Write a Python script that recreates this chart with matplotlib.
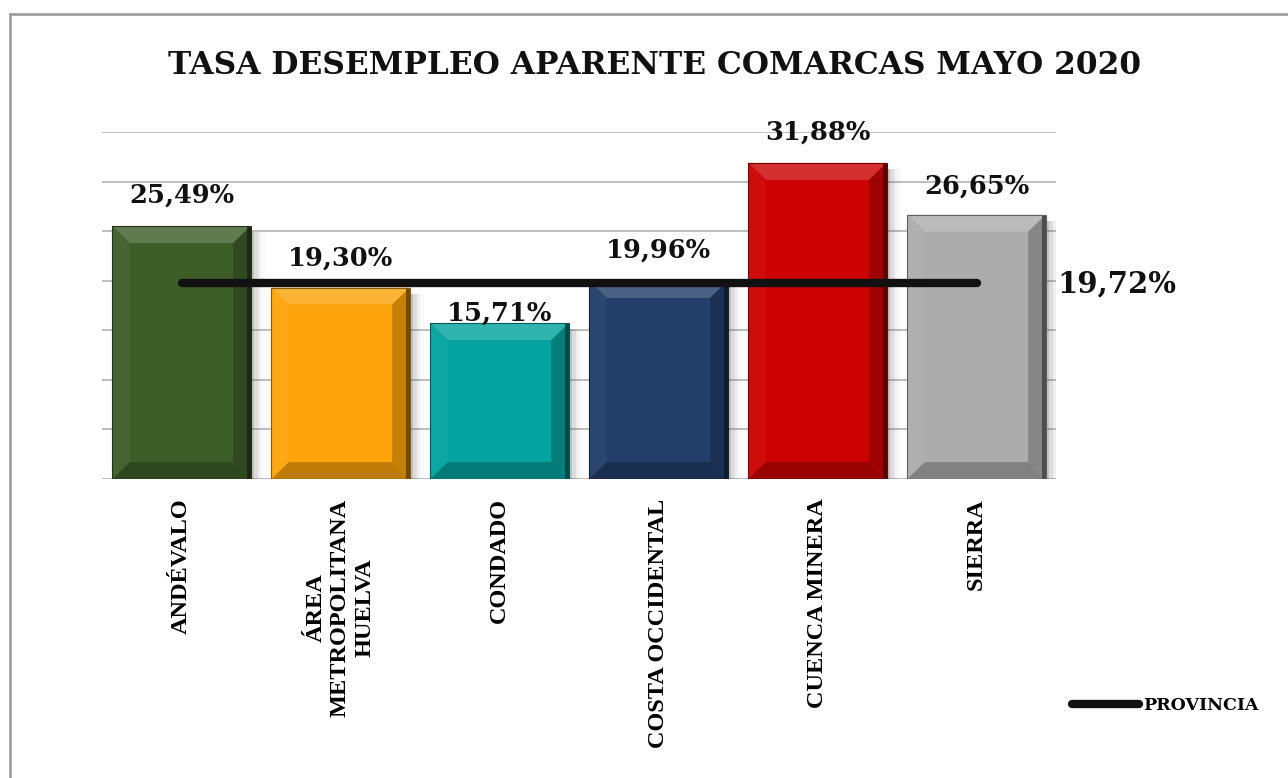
import matplotlib.pyplot as plt
import numpy as np
from matplotlib.patches import Polygon, Rectangle
from matplotlib.lines import Line2D
from matplotlib.colors import to_rgb

# Tasa de desempleo aparente por comarca (mayo 2020)
comarcas = ['ANDÉVALO', 'ÁREA\nMETROPOLITANA\nHUELVA', 'CONDADO',
            'COSTA OCCIDENTAL', 'CUENCA MINERA', 'SIERRA']
tasas = [25.49, 19.30, 15.71, 19.96, 31.88, 26.65]
provincia = 19.72
colores = ['#3E5E29', '#FDA40A', '#03A39F', '#223E69', '#CC0202', '#ACACAC']
# extra vertical offset of the value labels (Condado label sits lower)
label_off = [3.1, 3.0, 1.0, 3.1, 3.1, 2.9]

serif_b = dict(family='DejaVu Serif', weight='bold')


def mix(c, other, t):
    c = np.array(to_rgb(c))
    return tuple(c * (1 - t) + np.array(other) * t)


fig = plt.figure(figsize=(12.88, 7.78), dpi=100)
ax = fig.add_axes([102 / 1288, 1 - 479 / 778, 954 / 1288, 347 / 778])

x = np.arange(len(comarcas))
bw = 0.87
bx = 0.11    # bevel width in x units
by = 1.7     # bevel height in y units

ax.set_xlim(-0.5, len(comarcas) - 0.5)
ax.set_ylim(0, 35)
ax.set_yticks(np.arange(0, 36, 5))
ax.yaxis.grid(True, color='#BEBEBE', lw=1.4)
ax.set_axisbelow(True)
for s in ax.spines.values():
    s.set_visible(False)
ax.tick_params(axis='y', length=0, labelleft=False)
ax.tick_params(axis='x', length=0, pad=14)

bars = ax.bar(x, tasas, width=bw, color=colores, zorder=2)

for b, c in zip(bars, colores):
    x0, x1 = b.get_x(), b.get_x() + b.get_width()
    y0, y1 = 0, b.get_height()
    # soft shadow on the right
    for k, a in enumerate([0.20, 0.12, 0.06, 0.03]):
        ax.add_patch(Rectangle((x1, y0), 0.022 * (k + 1), y1 - 0.6, color='#555555',
                               alpha=a, lw=0, zorder=1.5))
    faces = [
        ([(x0, y1), (x1, y1), (x1 - bx, y1 - by), (x0 + bx, y1 - by)], mix(c, (1, 1, 1), 0.18)),
        ([(x0, y0), (x0, y1), (x0 + bx, y1 - by), (x0 + bx, y0 + by)], mix(c, (1, 1, 1), 0.04)),
        ([(x1, y0), (x1, y1), (x1 - bx, y1 - by), (x1 - bx, y0 + by)], mix(c, (0, 0, 0), 0.22)),
        ([(x0, y0), (x1, y0), (x1 - bx, y0 + by), (x0 + bx, y0 + by)], mix(c, (0, 0, 0), 0.25)),
    ]
    for pts, fc in faces:
        ax.add_patch(Polygon(pts, closed=True, fc=fc, ec='none', zorder=2.5))
    # darker outer rim on right and bottom
    ax.add_patch(Rectangle((x1 - 0.025, y0), 0.025, y1, fc=mix(c, (0, 0, 0), 0.55),
                           ec='none', zorder=2.55))
    ax.add_patch(Rectangle((x0, y0), x1 - x0, y1, fill=False,
                           ec=mix(c, (0, 0, 0), 0.45), lw=0.8, zorder=2.6))

for xi, v, off in zip(x, tasas, label_off):
    ax.text(xi, v + off, f'{v:.2f}%'.replace('.', ','), ha='center', va='center',
            fontsize=18.5, color='#111111', zorder=5, **serif_b)

ax.plot(x, [provincia] * len(x), color='#111111', lw=6, solid_capstyle='round', zorder=4)
ax.text(1.002, provincia, f'{provincia:.2f}%'.replace('.', ','),
        transform=ax.get_yaxis_transform(), ha='left', va='center',
        fontsize=21, color='#111111', **serif_b)

ax.set_xticks(x)
ax.set_xticklabels(comarcas, rotation=90, va='top', ha='center',
                   family='Liberation Serif', weight='bold', fontsize=17.5,
                   multialignment='center', linespacing=1.2)

fig.text(655 / 1288, 1 - 65 / 778, 'TASA DESEMPLEO APARENTE COMARCAS MAYO 2020',
         ha='center', va='center', fontsize=22.5, color='#111111', **serif_b)

handle = Line2D([], [], color='#111111', lw=6, solid_capstyle='round')
fig.legend([handle], ['PROVINCIA'], loc='center left',
           bbox_to_anchor=(1056 / 1288, 1 - 706 / 778), frameon=False,
           handlelength=3.9, handletextpad=0.2,
           prop=dict(family='DejaVu Serif', weight='bold', size=12.5))

# outer frame (only top and left edges visible in the crop)
fig.add_artist(Line2D([10 / 1288, 1], [1 - 14 / 778, 1 - 14 / 778],
                      transform=fig.transFigure, color='#A0A0A0', lw=2))
fig.add_artist(Line2D([10 / 1288, 10 / 1288], [0, 1 - 14 / 778],
                      transform=fig.transFigure, color='#A0A0A0', lw=2))

fig.savefig('out.png', dpi=100)
